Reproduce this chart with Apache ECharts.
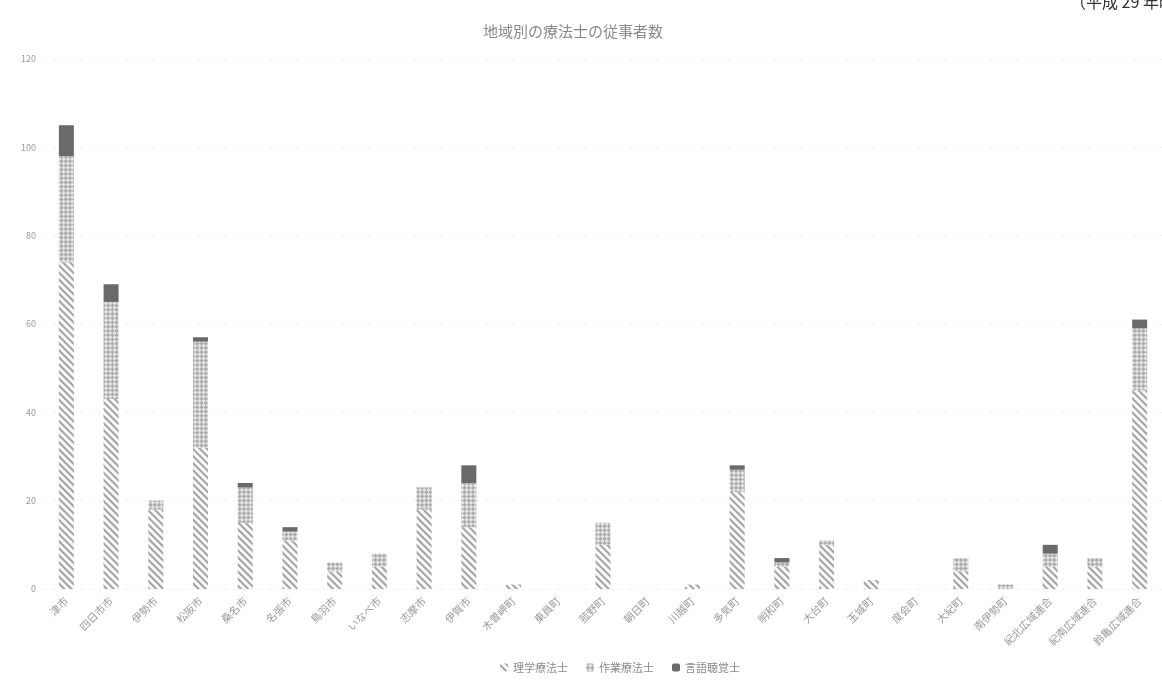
<!DOCTYPE html>
<html>
<head>
<meta charset="utf-8">
<script src="https://cdn.jsdelivr.net/npm/echarts@6/dist/echarts.min.js"></script>
<style>
  html, body { margin: 0; padding: 0; background: #fff; }
  #main { width: 1162px; height: 699px; }
</style>
</head>
<body>
<div id="main"></div>
<script>
// 地域（保険者）
const regions = [
  "津市", "四日市市", "伊勢市", "松阪市", "桑名市", "名張市", "鳥羽市", "いなべ市",
  "志摩市", "伊賀市", "木曽岬町", "東員町", "菰野町", "朝日町", "川越町", "多気町",
  "明和町", "大台町", "玉城町", "度会町", "大紀町", "南伊勢町", "紀北広域連合",
  "紀南広域連合", "鈴亀広域連合"
];
// 理学療法士
const ptData = [74, 43, 18, 32, 15, 11, 4, 5, 18, 14, 1, 0, 10, 0, 1, 22, 5, 10, 2, 0, 4, 0, 5, 5, 45];
// 作業療法士
const otData = [24, 22, 2, 24, 8, 2, 2, 3, 5, 10, 0, 0, 5, 0, 0, 5, 1, 1, 0, 0, 3, 1, 3, 2, 14];
// 言語聴覚士
const stData = [7, 4, 0, 1, 1, 1, 0, 0, 0, 4, 0, 0, 0, 0, 0, 1, 1, 0, 0, 0, 0, 0, 2, 0, 2];

const yTicks = { min: 0, max: 120, interval: 20 };

const chart = echarts.init(document.getElementById("main"));
const font = "'Noto Sans CJK JP', 'Noto Sans', sans-serif";

const option = {
  animation: false,
  textStyle: { fontFamily: font },
  title: {
    text: "地域別の療法士の従事者数",
    left: 478,
    top: 19,
    textStyle: { fontSize: 15, fontWeight: "normal", color: "#8a8a8a", fontFamily: font }
  },
  graphic: [
    {
      type: "text",
      left: 1070,
      top: -6,
      style: { text: "（平成 29 年時点）", fontSize: 16, fill: "#333", fontFamily: "'Noto Sans CJK JP', serif" }
    }
  ],
  legend: {
    left: 495,
    top: 657,
    itemWidth: 8,
    itemHeight: 8,
    itemGap: 18,
    textStyle: { fontSize: 11, color: "#8a8a8a" },
    data: ["理学療法士", "作業療法士", "言語聴覚士"]
  },
  grid: { left: 44, right: -17, top: 59, bottom: 110 },
  xAxis: {
    type: "category",
    data: regions,
    axisLine: { show: false },
    axisTick: { show: false },
    axisLabel: { rotate: 45, fontSize: 10.5, color: "#9a9a9a", margin: 10, interval: 0 }
  },
  yAxis: {
    type: "value",
    min: yTicks.min,
    max: yTicks.max,
    interval: yTicks.interval,
    axisLine: { show: false },
    axisTick: { show: false },
    axisLabel: { fontSize: 9, color: "#9a9a9a", margin: 8 },
    splitLine: { lineStyle: { color: "#f0f0f0", type: [3, 6] } }
  },
  series: [
    {
      name: "理学療法士",
      type: "bar",
      stack: "total",
      barWidth: 15,
      data: ptData,
      itemStyle: {
        color: "#f8f8f8",
        decal: {
          symbol: "rect",
          color: "#a2a2a2",
          dashArrayX: [1, 0],
          dashArrayY: [1.2, 2.6],
          rotation: Math.PI / 4
        }
      }
    },
    {
      name: "作業療法士",
      type: "bar",
      stack: "total",
      data: otData,
      itemStyle: {
        color: "#e4e4e4",
        decal: {
          symbol: "rect",
          color: "#ababab",
          dashArrayX: [[3, 3], [0, 3, 3, 0]],
          dashArrayY: [3, 0],
          rotation: Math.PI / 4
        }
      }
    },
    {
      name: "言語聴覚士",
      type: "bar",
      stack: "total",
      data: stData,
      itemStyle: { color: "#6a6a6a" }
    }
  ]
};

chart.setOption(option);
</script>
</body>
</html>
